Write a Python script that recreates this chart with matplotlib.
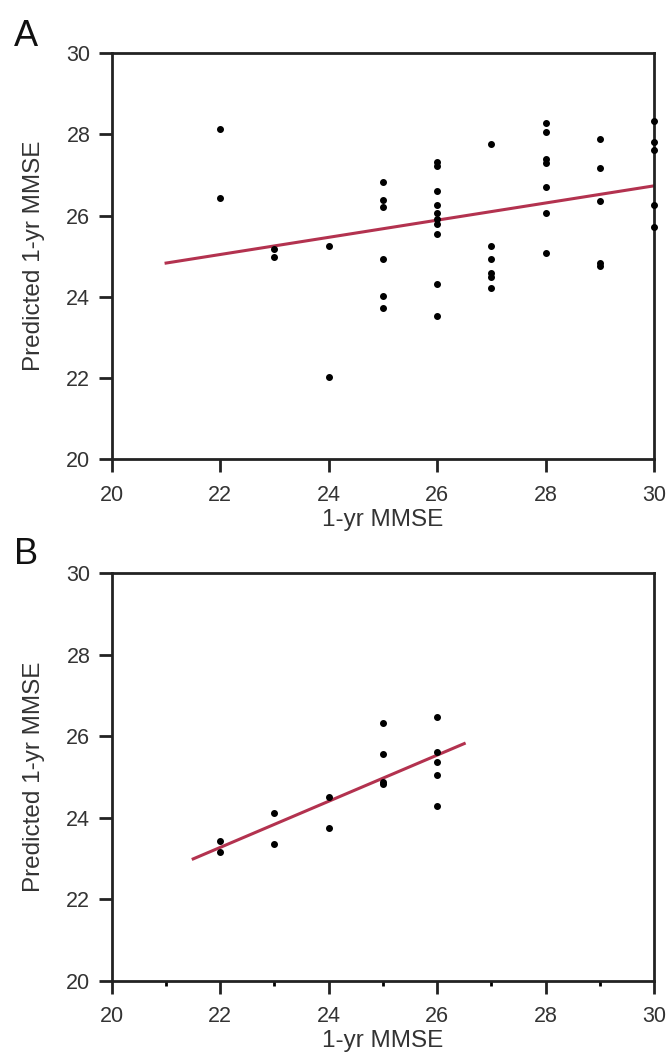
import matplotlib
matplotlib.use("Agg")
import matplotlib.pyplot as plt
from matplotlib.ticker import MultipleLocator

plt.rcParams['font.family'] = ['Liberation Sans', 'DejaVu Sans']

# Panel A: observed 1-yr MMSE vs predicted
a_obs = [22, 22,
         23, 23,
         24, 24,
         25, 25, 25, 25, 25, 25,
         26, 26, 26, 26, 26, 26, 26, 26, 26, 26,
         27, 27, 27, 27, 27, 27,
         28, 28, 28, 28, 28, 28, 28,
         29, 29, 29, 29, 29,
         30, 30, 30, 30, 30]
a_pred = [28.12, 26.42,
          25.17, 24.98,
          25.25, 22.03,
          26.82, 26.39, 26.20, 24.94, 24.03, 23.72,
          27.32, 27.22, 26.60, 26.26, 26.05, 25.91, 25.78, 25.54, 24.31, 23.53,
          27.75, 25.25, 24.94, 24.58, 24.49, 24.21,
          28.28, 28.05, 27.38, 27.30, 26.69, 26.05, 25.08,
          27.89, 27.17, 26.35, 24.84, 24.76,
          28.33, 27.81, 27.62, 26.26, 25.72]
a_fit_x = [21, 30]
a_fit_y = [24.83, 26.73]

# Panel B
b_obs = [22, 22, 23, 23, 24, 24, 25, 25, 25, 25, 26, 26, 26, 26, 26]
b_pred = [23.44, 23.16, 24.12, 23.36, 24.50, 23.75,
          26.33, 25.57, 24.88, 24.83,
          26.47, 25.62, 25.37, 25.05, 24.29]
b_fit_x = [21.5, 26.5]
b_fit_y = [22.99, 25.82]

line_color = "#b3324f"
tick_color = "#333333"

fig = plt.figure(figsize=(6.7, 10.55), dpi=100)
axA = fig.add_axes([0.167, 0.5646, 0.809, 0.3852])
axB = fig.add_axes([0.167, 0.0704, 0.809, 0.3862])


def style_axes(ax, minor):
    ax.set_xlim(20, 30)
    ax.set_ylim(20, 30)
    ax.xaxis.set_major_locator(MultipleLocator(2))
    ax.yaxis.set_major_locator(MultipleLocator(2))
    if minor:
        ax.xaxis.set_minor_locator(MultipleLocator(1))
        ax.tick_params(axis='x', which='minor', direction='out', length=3.6,
                       width=2.0, top=False)
    for s in ax.spines.values():
        s.set_linewidth(2.0)
        s.set_color("#222222")
        s.set_clip_on(False)
    ax.tick_params(axis='both', which='major', direction='out', length=9.5,
                   width=2.0, color="#222222", labelsize=15.5, labelcolor=tick_color)
    ax.tick_params(axis='x', which='major', pad=9)
    ax.tick_params(axis='y', which='major', pad=6)
    ax.set_xlabel("1-yr MMSE", fontsize=17.5, color=tick_color, labelpad=2)
    ax.set_ylabel("Predicted 1-yr MMSE", fontsize=17.5, color=tick_color, labelpad=15)


axA.scatter(a_obs, a_pred, s=16, color="black", zorder=3, clip_on=False)
axA.plot(a_fit_x, a_fit_y, color=line_color, linewidth=2.2, zorder=2)
style_axes(axA, False)

axB.scatter(b_obs, b_pred, s=16, color="black", zorder=3, clip_on=False)
axB.plot(b_fit_x, b_fit_y, color=line_color, linewidth=2.2, zorder=2)
style_axes(axB, True)

fig.text(0.021, 0.9655, "A", fontsize=26, color="#111111", va="center", ha="left")
fig.text(0.021, 0.4745, "B", fontsize=26, color="#111111", va="center", ha="left")

fig.savefig("out.png", dpi=100)
